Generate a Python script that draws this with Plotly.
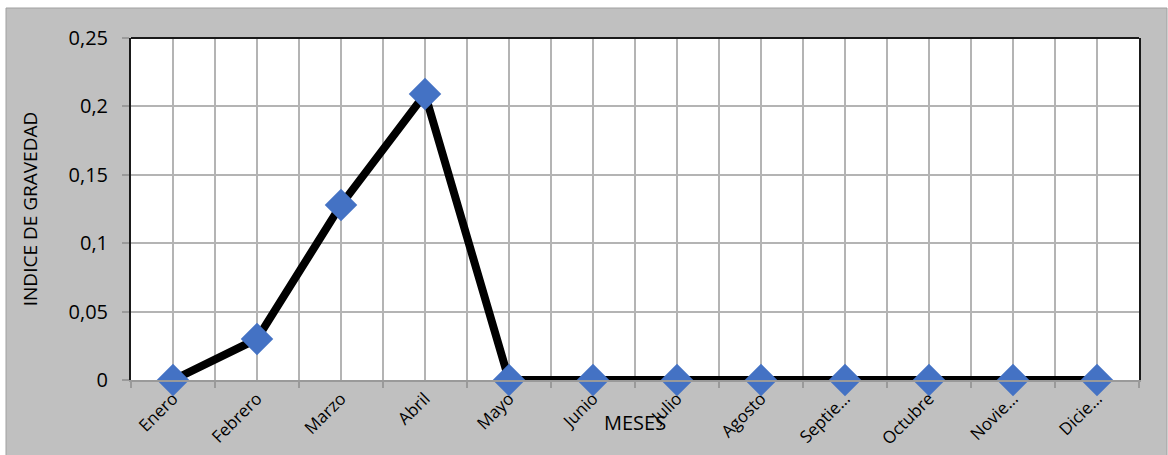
import plotly.graph_objects as go

# Monthly severity index
meses = ["Enero", "Febrero", "Marzo", "Abril", "Mayo", "Junio", "Julio",
         "Agosto", "Septie…", "Octubre", "Novie…", "Dicie…"]
indice = [0, 0.03, 0.128, 0.209, 0, 0, 0, 0, 0, 0, 0, 0]
y_ticks = [0, 0.05, 0.10, 0.15, 0.20, 0.25]
y_labels = ["0", "0,05", "0,1", "0,15", "0,2", "0,25"]

pos = list(range(len(meses)))
font = "Open Sans"
grid = "#b4b4b4"

fig = go.Figure(go.Scatter(
    x=pos, y=indice, mode="lines+markers",
    line=dict(color="black", width=8),
    marker=dict(symbol="diamond", size=25, color="#4472C4", line=dict(width=0)),
    cliponaxis=False, showlegend=False,
))

# plot-area geometry in pixels (used for margin shapes)
W, H = 1168, 455
L, R, T, B = 131, 1139, 38, 380
px = lambda v: (v - L) / (R - L)
py = lambda v: (B - v) / (B - T)

fig.update_layout(
    width=W, height=H,
    margin=dict(l=L, r=W - R, t=T, b=H - B),
    paper_bgcolor="#c0c0c0", plot_bgcolor="white",
    font=dict(family=font, size=17, color="black"),
    xaxis=dict(
        range=[-0.5, len(meses) - 0.5], tickmode="array", tickvals=pos,
        ticktext=meses, tickangle=-45, ticks="", showgrid=True,
        gridcolor=grid, gridwidth=1.5, zeroline=False, automargin=False,
        showline=True, linecolor="#9a9a9a", linewidth=2,
        tickfont=dict(size=17), ticklabelstandoff=0,
        minor=dict(tickmode="array", tickvals=[i - 0.5 for i in range(len(meses) + 1)],
                   showgrid=True, gridcolor=grid, gridwidth=1.5,
                   ticks="outside", ticklen=6, tickcolor="#9a9a9a", tickwidth=1.5),
    ),
    yaxis=dict(
        range=[0, 0.25], tickmode="array", tickvals=y_ticks, ticktext=y_labels,
        ticks="outside", ticklen=7, tickcolor="#9a9a9a", tickwidth=1.5,
        showgrid=True, gridcolor=grid, gridwidth=1.5, zeroline=False, automargin=False,
        showline=True, mirror=True, linecolor="#1a1a1a", linewidth=2,
        tickfont=dict(size=20), ticklabelstandoff=10,
        title=dict(text="INDICE DE GRAVEDAD", font=dict(size=19), standoff=26),
    ),
    annotations=[dict(text="MESES", x=0.5, y=py(422), xref="paper", yref="paper",
                      showarrow=False, font=dict(size=20), xanchor="center", yanchor="middle")],
    shapes=[
        # top border of the plot area
        dict(type="line", xref="paper", yref="paper", x0=0, x1=1, y0=1, y1=1,
             line=dict(color="#1a1a1a", width=2)),
        # white page around the chart frame
        dict(type="rect", xref="paper", yref="paper", x0=px(0), x1=px(W), y0=py(8), y1=py(0),
             fillcolor="white", line=dict(width=0), layer="below"),
        dict(type="rect", xref="paper", yref="paper", x0=px(0), x1=px(6), y0=py(H), y1=py(0),
             fillcolor="white", line=dict(width=0), layer="below"),
        dict(type="rect", xref="paper", yref="paper", x0=px(1167), x1=px(W), y0=py(H), y1=py(0),
             fillcolor="white", line=dict(width=0), layer="below"),
        # chart frame outline
        dict(type="rect", xref="paper", yref="paper", x0=px(6), x1=px(1167), y0=py(H + 2), y1=py(8),
             fillcolor="rgba(0,0,0,0)", line=dict(color="#a0a0a0", width=1), layer="below"),
    ],
)

fig.write_html("out.html")
